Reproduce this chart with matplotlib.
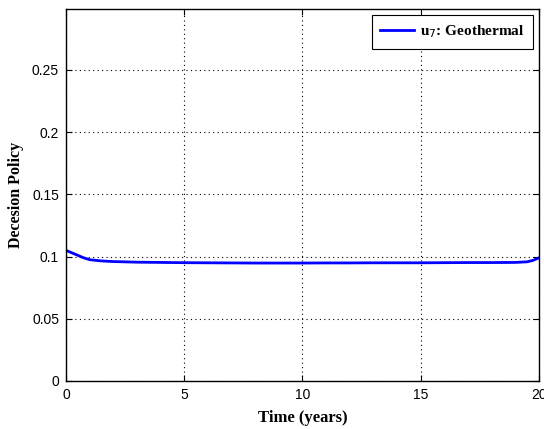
import matplotlib
matplotlib.use("Agg")
import matplotlib.pyplot as plt

t = [0, 0.25, 0.5, 0.75, 1.0, 1.5, 2, 3, 4, 5, 6, 7, 8, 9, 10, 11, 12, 13, 14, 15, 16, 17, 18, 19, 19.5, 19.75, 20]
u7 = [0.1050, 0.1030, 0.1010, 0.0990, 0.0975, 0.0965, 0.0960, 0.0955, 0.0953, 0.0951, 0.0950, 0.0949, 0.0948, 0.0948, 0.0948, 0.0949, 0.0949, 0.0950, 0.0950, 0.0950, 0.0951, 0.0952, 0.0952, 0.0953, 0.0958, 0.0970, 0.0990]
xticks = [0, 5, 10, 15, 20]
yticks = [0, 0.05, 0.1, 0.15, 0.2, 0.25]
ytick_labels = ["0", "0.05", "0.1", "0.15", "0.2", "0.25"]

fig = plt.figure(figsize=(5.44, 4.29), dpi=100)
ax = fig.add_axes([0.1213, 0.1119, 0.9908 - 0.1213, 0.979 - 0.1119])
ax.plot(t, u7, color="#0000ff", lw=2, label=r"u$_7$: Geothermal")
ax.set_xlim(0, 20)
ax.set_ylim(0, 0.299)
ax.set_xticks(xticks)
ax.set_yticks(yticks)
ax.set_yticklabels(ytick_labels)
ax.grid(True, linestyle=(0, (1, 3)), color="black", lw=0.8)
ax.tick_params(direction="in", length=4, labelsize=10, top=True, right=True, pad=5)
for lab in ax.get_xticklabels() + ax.get_yticklabels():
    lab.set_family("Liberation Sans")
for s in ax.spines.values():
    s.set_linewidth(1.0)
ax.set_xlabel("Time (years)", family="Liberation Serif", fontweight="bold", fontsize=12, labelpad=6)
ax.set_ylabel("Decesion Policy", family="Liberation Serif", fontweight="bold", fontsize=11.5, labelpad=6)
leg = ax.legend(loc="upper right", prop={"family": "Liberation Serif", "weight": "bold", "size": 11},
                fancybox=False, edgecolor="black", framealpha=1, handlelength=2.2,
                borderaxespad=0.4, borderpad=0.55, handletextpad=0.4)
leg.get_frame().set_linewidth(0.8)
fig.savefig("out.png", dpi=100)
